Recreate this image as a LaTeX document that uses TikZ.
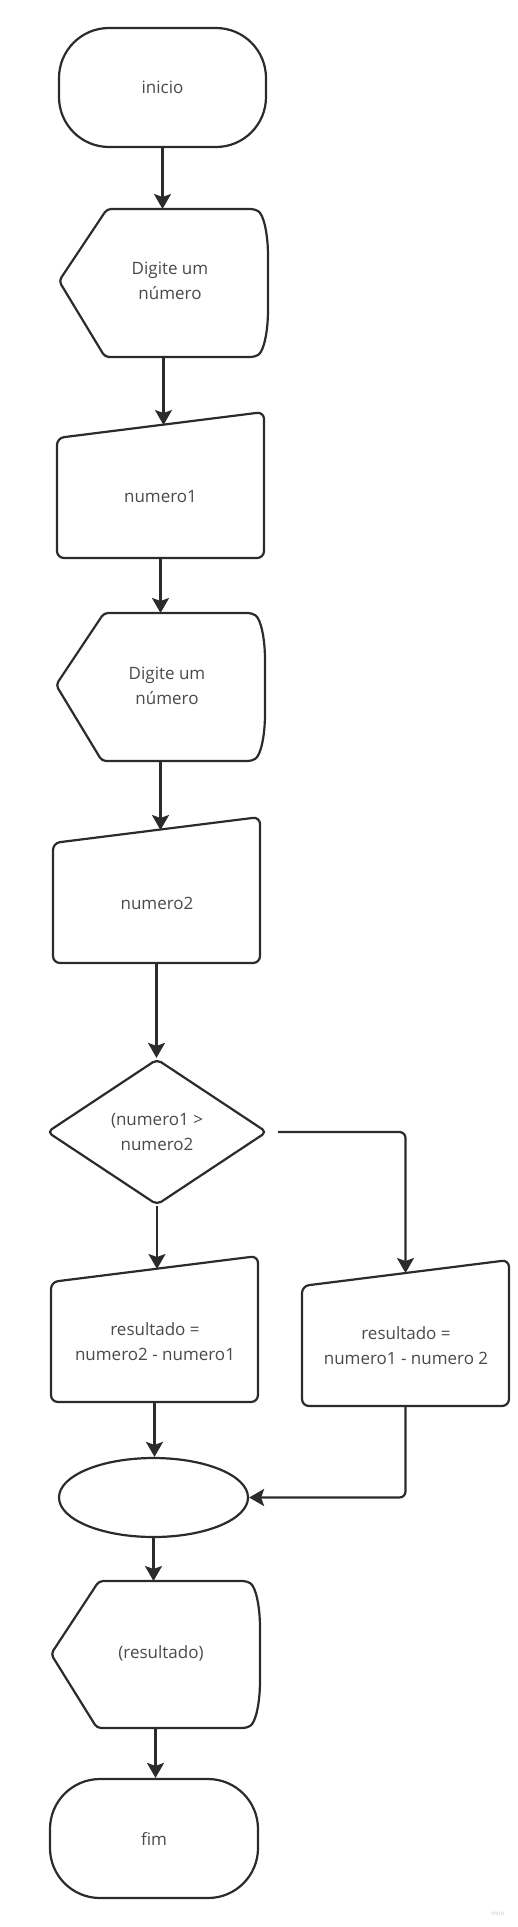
\documentclass[tikz,border=0pt]{standalone}
\usepackage{fontspec}
\setmainfont{Open Sans}
\usetikzlibrary{shapes.geometric,arrows.meta,calc}
\definecolor{ln}{HTML}{2B2B2B}
\definecolor{tx}{HTML}{4A4A4A}
\begin{document}
\begin{tikzpicture}[x=1pt,y=-1pt,
  outline/.style={draw=ln,line width=2.2pt,line join=round},
  conn/.style={draw=ln,line width=2.2pt,-{Stealth[length=15pt,width=17pt,inset=3pt]}},
  lbl/.style={text=tx,font=\fontsize{17}{25}\selectfont,align=center,inner sep=0pt},
  hold/.style 2 args={rectangle,draw=none,inner sep=0pt,outer sep=0pt,minimum width=#1,minimum height=#2},
  term/.style={outline,lbl,rectangle,rounded corners=50pt,minimum width=207pt,minimum height=119pt}
]
\useasboundingbox[fill=white] (0,0) rectangle (518,1927);

% inicio
\node[term] (inicio) at (162.5,87.5) {inicio};

% display 1
\begin{scope}[shift={(59,209)}]
  \path[outline,rounded corners=4pt] (48,0) -- (196,0) .. controls (205,6) and (209,26) .. (209,51) -- (209,97) .. controls (209,122) and (205,142) .. (196,148) -- (46,148) -- (0,72) -- cycle;
  \node[hold={209pt}{148pt}] (disp1) at (104.5,74) {};
  \node[lbl] (disp1t) at (111,72) {Digite um\\número};
\end{scope}

% input 1
\begin{scope}[shift={(57,412)}]
  \path[outline,rounded corners=7pt] (0,26) -- (207,0) -- (207,146) -- (0,146) -- cycle;
  \node[hold={207pt}{133pt}] (in1) at (103.5,79.5) {};
  \node[lbl] (in1t) at (103.5,85) {numero1};
\end{scope}

% display 2
\begin{scope}[shift={(56,613)}]
  \path[outline,rounded corners=4pt] (48,0) -- (196,0) .. controls (205,6) and (209,26) .. (209,51) -- (209,97) .. controls (209,122) and (205,142) .. (196,148) -- (46,148) -- (0,72) -- cycle;
  \node[hold={209pt}{148pt}] (disp2) at (104.5,74) {};
  \node[lbl] (disp2t) at (111,73) {Digite um\\número};
\end{scope}

% input 2
\begin{scope}[shift={(53,817)}]
  \path[outline,rounded corners=7pt] (0,26) -- (207,0) -- (207,146) -- (0,146) -- cycle;
  \node[hold={207pt}{133pt}] (in2) at (103.5,79.5) {};
  \node[lbl] (in2t) at (104,86) {numero2};
\end{scope}

% decision
\node[outline,lbl,diamond,rounded corners=5pt,minimum width=220pt,minimum height=146pt] (dec) at (157,1132) {(numero1 >\\numero2};

% input 3
\begin{scope}[shift={(51,1256)}]
  \path[outline,rounded corners=7pt] (0,26) -- (207,0) -- (207,146) -- (0,146) -- cycle;
  \node[hold={207pt}{133pt}] (in3) at (103.5,79.5) {};
  \node[lbl] (in3t) at (104,85.5) {resultado =\\numero2 - numero1};
\end{scope}

% input 4
\begin{scope}[shift={(302,1260)}]
  \path[outline,rounded corners=7pt] (0,26) -- (207,0) -- (207,146) -- (0,146) -- cycle;
  \node[hold={207pt}{133pt}] (in4) at (103.5,79.5) {};
  \node[lbl] (in4t) at (104,85.5) {resultado =\\numero1 - numero 2};
\end{scope}

% junction ellipse
\node[outline,ellipse,inner sep=0pt,minimum width=189pt,minimum height=79pt] (junc) at (153.5,1497.5) {};

% display 3
\begin{scope}[shift={(51,1581)}]
  \path[outline,rounded corners=4pt] (48,0) -- (196,0) .. controls (205,6) and (209,26) .. (209,51) -- (209,96) .. controls (209,121) and (205,141) .. (196,147) -- (46,147) -- (0,73) -- cycle;
  \node[hold={209pt}{147pt}] (disp3) at (104.5,73.5) {};
  \node[lbl] (disp3t) at (110,72) {(resultado)};
\end{scope}

% fim
\node[term,minimum width=208pt] (fim) at (154,1838.5) {fim};

% watermark
\node[text=black!22,font=\fontsize{6}{7}\selectfont,inner sep=0pt] (miro) at (498,1913) {miro};

% connectors
\draw[conn] (inicio.south) -- (inicio.south |- disp1.north);
\draw[conn] (disp1.south) -- (disp1.south |- in1.north);
\draw[conn] (in1.south) -- (in1.south |- disp2.north);
\draw[conn] (disp2.south) -- (disp2.south |- in2.north);
\draw[conn] (in2.south) -- (in2.south |- dec.north);
\draw[conn] (dec.south) -- (dec.south |- in3.north);
\draw[conn,rounded corners=6pt] ([xshift=10pt]dec.east) -| (in4.north);
\draw[conn] (in3.south) -- (in3.south |- junc.north);
\draw[conn,rounded corners=6pt] (in4.south) |- (junc.east);
\draw[conn] (junc.south) -- (junc.south |- disp3.north);
\draw[conn] (disp3.south) -- (disp3.south |- fim.north);
\end{tikzpicture}
\end{document}
